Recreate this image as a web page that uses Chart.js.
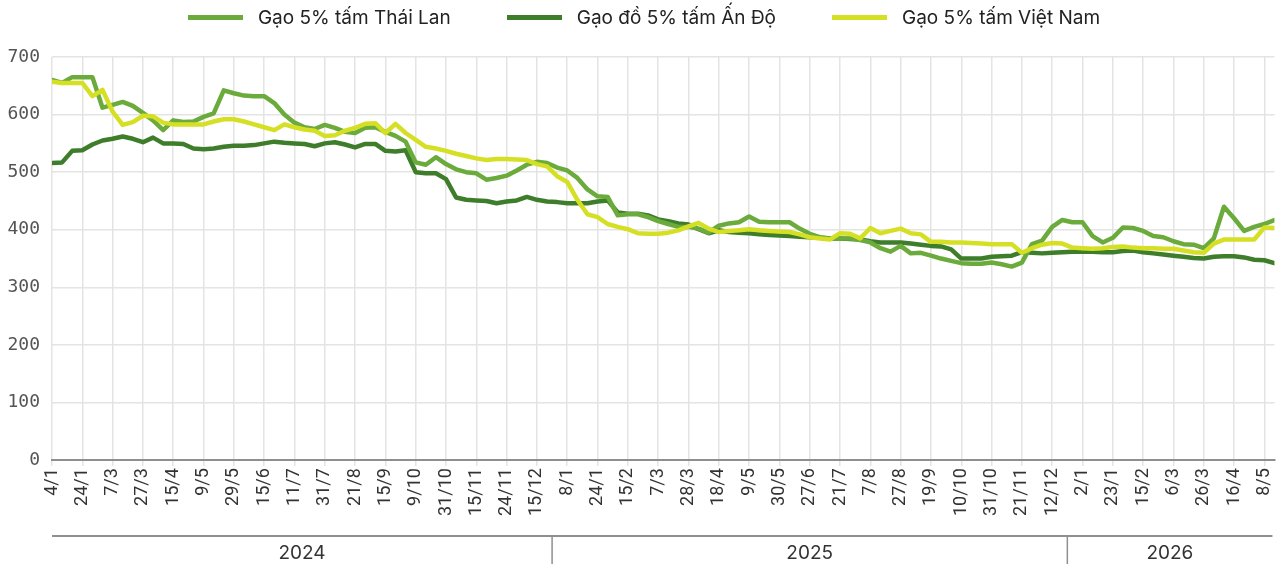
<!DOCTYPE html>
<html>
<head>
<meta charset="utf-8">
<script src="https://cdn.jsdelivr.net/npm/chart.js@4.4.1/dist/chart.umd.min.js"></script>
<style>
  html, body { margin: 0; padding: 0; background: #fff; }
  #wrap { position: relative; width: 1288px; height: 564px; }
  #legend {
    position: absolute; top: 6px; left: 0; width: 1288px;
    display: flex; justify-content: center; gap: 56px;
    font: 19px Inter, sans-serif; color: #222;
  }
  .item { display: flex; align-items: center; }
  .swatch { width: 55px; height: 5px; margin-right: 15px; }
</style>
</head>
<body>
<div id="wrap">
  <div id="legend"></div>
  <canvas id="c" width="1288" height="564"></canvas>
</div>
<script>
// tick labels (one grid line each), 3 weekly points between two ticks
const tickLabels = ['4/1','24/1','7/3','27/3','15/4','9/5','29/5','15/6','11/7','31/7','21/8','15/9','9/10','31/10','15/11','24/11','15/12',
  '8/1','24/1','15/2','7/3','28/3','18/4','9/5','30/5','27/6','21/7','7/8','27/8','19/9','10/10','31/10','21/11','12/12',
  '2/1','23/1','15/2','6/3','26/3','16/4','8/5'];
const years = ['2024', '2025', '2026'];
const yearStarts = [0, 17, 34];
const pointsPerTick = 3;

const thai = [660,655,665,665,665,612,617,622,615,603, 590,573,590,587,588,596,602,642,637,633,
  632,632,620,600,586,578,575,582,577,570, 568,
  577,578,570,563,553,517,513,526,514, 505,500,498,487,490,494,503,513,518,516,
  508,503,490,470,458,457,425,427,427,422,
  415,410,405,405,402,395,407,411,413,423, 414,413,413,413,402,393,387,385,385,385,
  382,378,368,362,372,359,360,355,350,346,
  342,341,341,343,340,336,343,375,381,405, 417,413,413,389,378,386,404,403,398,389,
  387,380,375,374,368,385,440,420,398,405, 410,417];

const india = [516,517,537,538,548,555,558,562,558,552, 560,550,550,549,541,540,541,544,546,546,
  547,550,553,551,550,549,545,550,552,548, 543,
  549,549,537,536,538,500,498,498,488, 456,452,451,450,446,449,451,457,452,449,
  448,446,446,446,449,451,430,428,428,425,
  418,415,411,409,401,394,399,396,395,394, 392,391,390,389,388,387,386,385,385,384,
  383,380,378,378,378,376,374,372,371,366,
  350,350,350,353,354,355,361,360,359,360, 361,362,362,362,361,361,363,364,361,359,
  357,355,353,351,350,353,354,354,352,348, 347,342];

const vietnam = [657,655,655,655,632,643,605,582,587,598, 597,586,583,583,583,583,588,592,592,588,
  583,578,573,583,578,574,572,563,564,572, 577,
  584,585,568,584,568,556,544,541,537, 532,528,524,521,523,523,522,521,514,510,
  493,483,452,427,422,410,405,401,394,393,
  393,395,399,406,412,402,396,398,399,401, 399,398,397,396,392,387,385,383,394,393,
  385,403,394,398,402,394,392,379,379,378,
  378,377,376,375,375,375,360,368,374,377, 376,369,368,367,368,370,371,369,368,368,
  367,367,364,361,360,376,383,383,383,383, 404,403];

const series = [
  { label: 'Gạo 5% tấm Thái Lan', values: thai, color: '#6aab3c', order: 1 },
  { label: 'Gạo đồ 5% tấm Ấn Độ', values: india, color: '#3e7d2a', order: 2 },
  { label: 'Gạo 5% tấm Việt Nam', values: vietnam, color: '#d5e024', order: 0 }
];

const toPoints = arr => arr.map((v, j) => ({ x: j / pointsPerTick, y: v }));

// legend
const legendEl = document.getElementById('legend');
series.forEach(s => {
  const item = document.createElement('div');
  item.className = 'item';
  item.innerHTML = `<span class="swatch" style="background:${s.color}"></span><span>${s.label}</span>`;
  legendEl.appendChild(item);
});

const yearBracket = {
  id: 'yearBracket',
  afterDraw(chart) {
    const { ctx, chartArea, scales: { x } } = chart;
    const lineY = chart.height - 28;
    const edges = [chartArea.left];
    yearStarts.slice(1).forEach(s => edges.push(x.getPixelForValue(s - 0.5)));
    edges.push(chartArea.right - 2);
    ctx.save();
    ctx.strokeStyle = '#8f8f8f';
    ctx.lineWidth = 2;
    ctx.beginPath();
    ctx.moveTo(edges[0], lineY);
    ctx.lineTo(edges[edges.length - 1], lineY);
    ctx.stroke();
    ctx.lineWidth = 1.5;
    for (let i = 1; i < edges.length - 1; i++) {
      ctx.beginPath();
      ctx.moveTo(edges[i], lineY);
      ctx.lineTo(edges[i], chart.height);
      ctx.stroke();
    }
    ctx.fillStyle = '#333';
    ctx.font = '19px Inter, sans-serif';
    ctx.textAlign = 'center';
    ctx.textBaseline = 'middle';
    years.forEach((y, i) => ctx.fillText(y, (edges[i] + edges[i + 1]) / 2, lineY + 17));
    ctx.restore();
  }
};

new Chart(document.getElementById('c'), {
  type: 'line',
  data: {
    datasets: series.map(s => ({
      label: s.label,
      data: toPoints(s.values),
      borderColor: s.color,
      backgroundColor: s.color,
      borderWidth: 4.5,
      pointRadius: 0,
      tension: 0,
      borderJoinStyle: 'round',
      borderCapStyle: 'round',
      order: s.order
    }))
  },
  options: {
    responsive: false,
    animation: false,
    layout: { padding: { left: 0, right: 6, top: 57, bottom: 46 } },
    plugins: { legend: { display: false }, tooltip: { enabled: false } },
    scales: {
      x: {
        type: 'linear',
        min: 0,
        max: (thai.length - 1) / pointsPerTick,
        grid: { color: '#e4e4e4', lineWidth: 1.5, tickLength: 6 },
        border: { color: '#8f8f8f', width: 2 },
        ticks: {
          stepSize: 1,
          includeBounds: false,
          autoSkip: false,
          minRotation: 90,
          maxRotation: 90,
          padding: 2,
          color: '#333',
          font: { family: 'Roboto', size: 18 },
          callback: v => Number.isInteger(v) ? tickLabels[v] : ''
        }
      },
      y: {
        min: 0,
        max: 700,
        afterFit: s => { s.width = 52; },
        grid: {
          color: c => c.tick.value === 0 ? '#8f8f8f' : '#e4e4e4',
          lineWidth: 1.5,
          drawTicks: false
        },
        border: { display: false },
        ticks: {
          stepSize: 100,
          padding: 12,
          color: '#555',
          font: { family: 'DejaVu Sans Mono', size: 18 }
        }
      }
    }
  },
  plugins: [yearBracket]
});
</script>
</body>
</html>
